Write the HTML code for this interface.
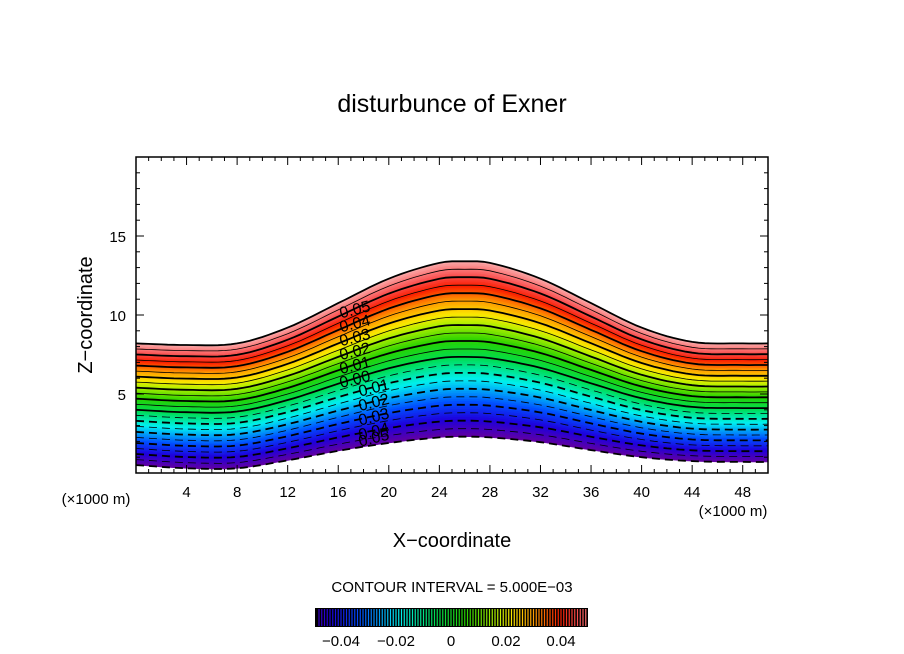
<!DOCTYPE html>
<html><head><meta charset="utf-8"><style>
body{margin:0;background:#fff}
svg{display:block;font-family:"Liberation Sans","DejaVu Sans",sans-serif}
</style></head><body>
<svg id="c" width="904" height="654" viewBox="0 0 904 654">
<text x="452" y="112" font-size="25" text-anchor="middle">disturbunce of Exner</text>
<g id="plot"></g>
<g id="axes"></g>
<text x="452" y="547" font-size="20" text-anchor="middle">X−coordinate</text>
<text x="92" y="315" font-size="20" text-anchor="middle" transform="rotate(-90 92 315)">Z−coordinate</text>
<text x="96" y="504" font-size="15" text-anchor="middle">(×1000 m)</text>
<text x="733" y="516" font-size="15" text-anchor="middle">(×1000 m)</text>
<text x="452" y="592" font-size="15" text-anchor="middle">CONTOUR INTERVAL = 5.000E−03</text>
<g id="cbar"></g>
</svg>
<script>
const xSamples=[0,4,8,12,16,20,24,26,28,32,36,40,44,48,50];
const topHeights=[8.2,8.1,8.2,9.2,10.75,12.3,13.3,13.4,13.3,12.3,10.75,9.2,8.3,8.2,8.2];
const bottomHeights=[0.5,0.3,0.3,0.8,1.4,1.9,2.25,2.3,2.25,1.95,1.45,1.0,0.75,0.7,0.7];
const levelMin=-0.05, levelMax=0.06, levelStep=0.005;
const xTicks=[4,8,12,16,20,24,28,32,36,40,44,48];
const yTicks=[5,10,15];
const cbarTicks=[-0.04,-0.02,0,0.02,0.04];
const cbarTickLabels=["−0.04","−0.02","0","0.02","0.04"];

const NS="http://www.w3.org/2000/svg";
const X0=136,X1=768,Y0=473,Y1=157;
const sx=v=>X0+(v/50)*(X1-X0);
const sy=v=>Y0-(v/20)*(Y0-Y1);
function interp(arr,x){
  const n=xSamples.length;
  let i=0;while(i<n-2&&x>xSamples[i+1])i++;
  const x0=xSamples[i],x1=xSamples[i+1],t=(x-x0)/(x1-x0);
  const p0=arr[Math.max(i-1,0)],p1=arr[i],p2=arr[i+1],p3=arr[Math.min(i+2,n-1)];
  const xm=xSamples[Math.max(i-1,0)],xp=xSamples[Math.min(i+2,n-1)];
  const m1=(p2-p0)/(x1-xm)*(x1-x0),m2=(p3-p1)/(xp-x0)*(x1-x0);
  const t2=t*t,t3=t2*t;
  return (2*t3-3*t2+1)*p1+(t3-2*t2+t)*m1+(-2*t3+3*t2)*p2+(t3-t2)*m2;
}
function zAt(x,v){const b=interp(bottomHeights,x),t=interp(topHeights,x);return b+(v-levelMin)/(levelMax-levelMin)*(t-b);}
function el(tag,attrs,parent){const e=document.createElementNS(NS,tag);for(const k in attrs)e.setAttribute(k,attrs[k]);parent.appendChild(e);return e;}
const stops=[[0,[100,0,160]],[0.1,[30,0,220]],[0.2,[0,80,255]],[0.33,[0,240,240]],[0.45,[0,220,80]],[0.55,[40,210,0]],[0.65,[180,240,0]],[0.7,[250,230,0]],[0.78,[255,150,0]],[0.86,[250,30,0]],[0.92,[250,80,80]],[1,[250,170,170]]];
function col(t){for(let i=0;i<stops.length-1;i++){if(t<=stops[i+1][0]){const u=(t-stops[i][0])/(stops[i+1][0]-stops[i][0]);const a=stops[i][1],b=stops[i+1][1];return `rgb(${a.map((c,j)=>Math.round(c+(b[j]-c)*u)).join(',')})`;}}return 'rgb(250,170,170)';}
const plot=document.getElementById('plot');
const xs=[];for(let x=0;x<=50.001;x+=0.5)xs.push(x);
function curve(v){return xs.map(x=>[sx(x),sy(zAt(x,v))]);}
const nsub=88;
for(let i=0;i<nsub;i++){
  const v0=levelMin+i*(levelMax-levelMin)/nsub,v1=levelMin+(i+1)*(levelMax-levelMin)/nsub;
  const a=curve(v0),b=curve(v1).reverse();
  const c=col((i+0.5)/nsub);
  const p=el('path',{d:'M'+a.concat(b).map(q=>q[0].toFixed(1)+','+q[1].toFixed(1)).join('L')+'Z',fill:c,stroke:c,'stroke-width':0.6},plot);
  
  
}
const nb=Math.round((levelMax-levelMin)/levelStep);
for(let i=0;i<=nb;i++){
  const v=levelMin+i*levelStep;
  const c=curve(v);
  const major=Math.abs(Math.round(v*1000)%10)===0;
  const attrs={d:'M'+c.map(q=>q[0].toFixed(1)+','+q[1].toFixed(1)).join('L'),fill:'none',stroke:'#000','stroke-width':major?1.8:0.8};
  if(v<-1e-9)attrs['stroke-dasharray']='8,5';
  const p=el('path',attrs,plot);
  
  
}
const labelVals=[0.05,0.04,0.03,0.02,0.01,0,-0.01,-0.02,-0.03,-0.04,-0.05];
labelVals.forEach(v=>{
  const x=v>=0?17.3:18.8;const y=sy(zAt(x,v))+(v===-0.05?-2:6);
  const t=el('text',{x:sx(x),y:y,'font-size':16,'text-anchor':'middle',transform:`rotate(-14 ${sx(x)} ${y-6})`},plot);
  t.textContent=Math.abs(v)<1e-9?'0.00':Math.abs(v).toFixed(2);
  
  
});
const ax=document.getElementById('axes');
const fr=el('rect',{x:X0,y:Y1,width:X1-X0,height:Y0-Y1,fill:'none',stroke:'#000','stroke-width':1.5},ax);


for(let v=1;v<50;v++){const L=(v%4===0)?8:4;el('line',{x1:sx(v),x2:sx(v),y1:Y0,y2:Y0-L,stroke:'#000'},ax);el('line',{x1:sx(v),x2:sx(v),y1:Y1,y2:Y1+L,stroke:'#000'},ax);}
for(let v=1;v<20;v++){const L=(v%5===0)?8:4;el('line',{x1:X0,x2:X0+L,y1:sy(v),y2:sy(v),stroke:'#000'},ax);el('line',{x1:X1,x2:X1-L,y1:sy(v),y2:sy(v),stroke:'#000'},ax);}
xTicks.forEach(v=>{const t=el('text',{x:sx(v),y:497,'font-size':15,'text-anchor':'middle'},ax);t.textContent=v;});
yTicks.forEach(v=>{const t=el('text',{x:126,y:sy(v)+6,'font-size':15,'text-anchor':'end'},ax);t.textContent=v;});
const cb=document.getElementById('cbar');
const CB0=315,CB1=588,CBY=608,CBH=19;
const cv=v=>451+v/0.02*55;
const bg=el('rect',{x:CB0,y:CBY,width:CB1-CB0,height:CBH,fill:'#000'},cb);


for(let k=0;k<=110;k++){const v=-0.055+k*0.001;const x=cv(v);if(x<CB0+2||x>CB1-2)continue;el('line',{x1:x,x2:x,y1:CBY+1,y2:CBY+CBH-1,stroke:col((v+0.055)/0.11),'stroke-width':1.2},cb);}
cbarTicks.forEach((v,i)=>{const t=el('text',{x:cv(v),y:646,'font-size':15,'text-anchor':'middle'},cb);t.textContent=cbarTickLabels[i];});
</script>
</body></html>
